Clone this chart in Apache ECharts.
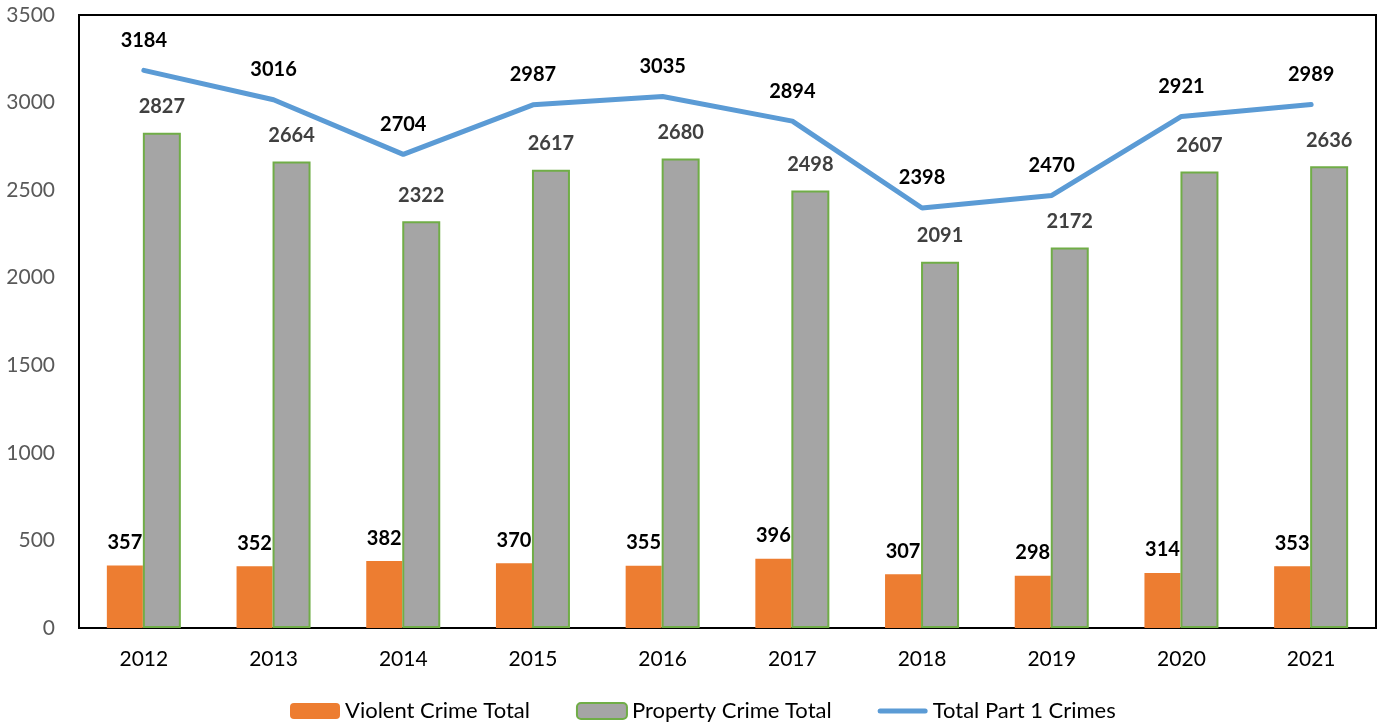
<!DOCTYPE html>
<html><head><meta charset="utf-8">
<script src="https://cdn.jsdelivr.net/npm/echarts@6/dist/echarts.min.js"></script>
<style>html,body{margin:0;padding:0;background:#fff}#c{width:1381px;height:727px}</style>
</head><body><div id="c"></div>
<script>
var years = ['2012','2013','2014','2015','2016','2017','2018','2019','2020','2021'];
var violent = [357,352,382,370,355,396,307,298,314,353];
var property = [2827,2664,2322,2617,2680,2498,2091,2172,2607,2636];
var total = [3184,3016,2704,2987,3035,2894,2398,2470,2921,2989];
var FONT = 'Lato';
var chart = echarts.init(document.getElementById('c'));
chart.setOption({
  animation:false,
  textStyle:{fontFamily:FONT},
  grid:{left:79,right:5,top:15,bottom:99,show:true,borderColor:'#000',borderWidth:2},
  legend:{bottom:0,left:285,itemGap:46,itemWidth:50,itemHeight:16,
    textStyle:{fontFamily:FONT,fontSize:22,color:'#000'},
    data:['Violent Crime Total','Property Crime Total',
      {name:'Total Part 1 Crimes',icon:'path://M2.5,0 L47.5,0 A2.5,2.5 0 0 1 47.5,5 L2.5,5 A2.5,2.5 0 0 1 2.5,0 Z',
       itemStyle:{color:'#5B9BD5',borderWidth:0}}]},
  xAxis:{type:'category',data:years,axisLine:{show:true,lineStyle:{color:'#000',width:2}},axisTick:{show:false},
    axisLabel:{fontSize:21,color:'#000',margin:21,fontFamily:FONT}},
  yAxis:{type:'value',min:0,max:3500,interval:500,splitLine:{show:false},axisLine:{show:true,lineStyle:{color:'#000',width:2}},
    axisLabel:{fontSize:21,color:'#595959',margin:24,fontFamily:FONT,formatter:function(v){return String(v);}}},
  series:[
    {name:'Violent Crime Total',type:'bar',data:violent,barWidth:36,barGap:'0%',
     itemStyle:{color:'#ED7D31'},
     label:{show:true,position:'top',distance:13,fontSize:20,fontWeight:'bold',color:'#000',fontFamily:FONT}},
    {name:'Property Crime Total',type:'bar',data:property,barWidth:38,
     itemStyle:{color:'#A5A5A5',borderColor:'#70AD47',borderWidth:2},
     label:{show:true,position:'top',distance:16,fontSize:20,fontWeight:'bold',color:'#404040',fontFamily:FONT}},
    {name:'Total Part 1 Crimes',type:'line',data:total,symbol:'circle',symbolSize:0.1,showSymbol:true,symbolKeepAspect:true,
     lineStyle:{color:'#5B9BD5',width:5,cap:'round'},itemStyle:{color:'#5B9BD5'},
     label:{show:true,position:'top',distance:20,fontSize:20,fontWeight:'bold',color:'#000',fontFamily:FONT}}
  ]
});
</script></body></html>
